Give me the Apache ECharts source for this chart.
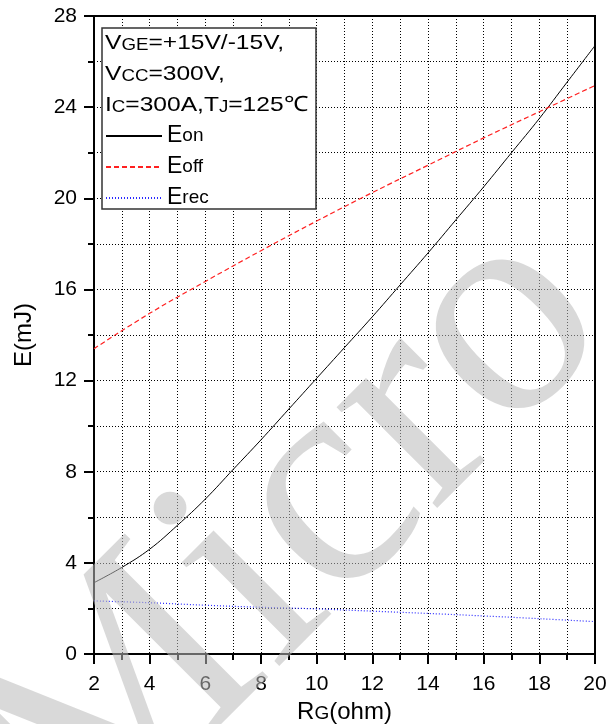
<!DOCTYPE html>
<html>
<head>
<meta charset="utf-8">
<script src="https://cdn.jsdelivr.net/npm/echarts@6/dist/echarts.min.js"></script>
<style>
  html, body { margin: 0; padding: 0; background: #fff; }
  #chart { width: 614px; height: 724px; }
</style>
</head>
<body>
<div id="chart"></div>
<script>
// gate resistance (ohm)
const rgOn = [2, 3, 4, 5, 6, 7, 8, 9, 10, 11, 12, 13, 14, 15, 16, 17, 18, 19, 20]
const eOn = [3.13, 3.8, 4.6, 5.65, 6.8, 8.1, 9.4, 10.75, 12.1, 13.45, 14.8, 16.2, 17.6, 19.05, 20.5, 22.0, 23.5, 25.1, 26.7]

const rg = [2, 4, 6, 8, 10, 12, 14, 16, 18, 20]
const eOff = [13.4, 14.95, 16.35, 17.7, 19.0, 20.25, 21.45, 22.65, 23.8, 24.95]
const eRec = [2.33, 2.25, 2.14, 2.05, 1.98, 1.88, 1.78, 1.67, 1.55, 1.42]

const conditions = [
    '{b|V}{s|GE}{b|=+15V/-15V,}',
    '{b|V}{s|CC}{b|=300V,}',
    '{b|I}{s|C}{b|=300A,T}{s|J}{b|=125℃}'
]

const font = '"Liberation Sans", Arial, sans-serif'

const pairs = (xs, ys) => xs.map((x, i) => [x, ys[i]])

const chart = echarts.init(document.getElementById('chart'))

const gridLine = { show: true, lineStyle: { color: '#000', type: [1, 2], width: 1 } }

const option = {
    backgroundColor: '#fff',
    animation: false,
    grid: {
        left: 94, right: 19, top: 16, bottom: 70,
        outerBoundsMode: 'none',
        show: true, borderColor: '#000', borderWidth: 2
    },
    xAxis: {
        type: 'value',
        min: 2,
        max: 20,
        interval: 2,
        name: '{b|R}{s|G}{b|(ohm)}',
        nameLocation: 'middle',
        nameGap: 38,
        nameTextStyle: {
            rich: {
                b: { fontFamily: font, fontSize: 24, color: '#000', verticalAlign: 'bottom', lineHeight: 26 },
                s: { fontFamily: font, fontSize: 19, color: '#000', verticalAlign: 'bottom', lineHeight: 26, padding: [0, 0, 1, 0] }
            }
        },
        axisLine: { lineStyle: { color: '#000', width: 2 } },
        axisTick: { length: 10, lineStyle: { width: 2 } },
        minorTick: { show: true, splitNumber: 2, length: 6, lineStyle: { color: '#000', width: 2 } },
        axisLabel: { color: '#000', fontFamily: font, fontSize: 21, margin: 20 },
        splitLine: gridLine,
        minorSplitLine: gridLine
    },
    yAxis: {
        type: 'value',
        min: 0,
        max: 28,
        interval: 4,
        name: 'E(mJ)',
        nameLocation: 'middle',
        nameGap: 58,
        nameTextStyle: { color: '#000', fontFamily: font, fontSize: 24 },
        axisLine: { show: true, lineStyle: { color: '#000', width: 2 } },
        axisTick: { show: true, length: 10, lineStyle: { width: 2 } },
        minorTick: { show: true, splitNumber: 2, length: 6, lineStyle: { color: '#000', width: 2 } },
        axisLabel: { color: '#000', fontFamily: font, fontSize: 21, margin: 17 },
        splitLine: gridLine,
        minorSplitLine: gridLine
    },
    legend: {
        orient: 'vertical',
        left: 100,
        top: 119,
        z: 6,
        itemWidth: 56,
        itemHeight: 12,
        itemGap: 8,
        itemStyle: { opacity: 0 },
        data: ['Eon', 'Eoff', 'Erec'],
        formatter: name => `{b|E}{s|${name.slice(1)}}`,
        textStyle: {
            rich: {
                b: { fontFamily: font, fontSize: 23, color: '#000', lineHeight: 22, verticalAlign: 'bottom' },
                s: { fontFamily: font, fontSize: 19, color: '#000', lineHeight: 22, verticalAlign: 'bottom', padding: [0, 0, 2, 0] }
            }
        }
    },
    graphic: [
        {
            type: 'rect',
            shape: { x: 102, y: 28, width: 214, height: 181 },
            style: { fill: '#fff', stroke: '#333', lineWidth: 1.5 },
            z: 3
        },
        {
            type: 'text',
            x: 105,
            y: 23,
            scaleX: 1.17,
            z: 6,
            style: {
                text: conditions.join('\n'),
                fill: '#000',
                rich: {
                    b: { font: '21px ' + font, lineHeight: 31, verticalAlign: 'bottom' },
                    s: { font: '16px ' + font, lineHeight: 31, verticalAlign: 'bottom' }
                }
            }
        },
        // watermark
        {
            type: 'text',
            x: 290,
            y: 540,
            rotation: Math.PI / 4,
            z: 100,
            silent: true,
            style: {
                text: 'Micro',
                font: '310px "Liberation Serif", "Times New Roman", serif',
                fill: 'rgba(185,185,185,0.55)',
                align: 'center',
                verticalAlign: 'middle'
            }
        }
    ],
    series: [
        {
            name: 'Eon',
            type: 'line',
            smooth: 0.4,
            symbol: 'none',
            lineStyle: { color: '#000', width: 1 },
            itemStyle: { color: '#000' },
            data: pairs(rgOn, eOn)
        },
        {
            name: 'Eoff',
            type: 'line',
            smooth: 0.4,
            symbol: 'none',
            lineStyle: { color: '#ff2020', width: 1.2, type: [5, 3] },
            itemStyle: { color: '#ff2020' },
            data: pairs(rg, eOff)
        },
        {
            name: 'Erec',
            type: 'line',
            smooth: 0.4,
            symbol: 'none',
            lineStyle: { color: '#2a2aff', width: 1.2, type: [1, 2] },
            itemStyle: { color: '#2a2aff' },
            data: pairs(rg, eRec)
        }
    ]
}

chart.setOption(option)
window.addEventListener('resize', () => chart.resize())
</script>
</body>
</html>
